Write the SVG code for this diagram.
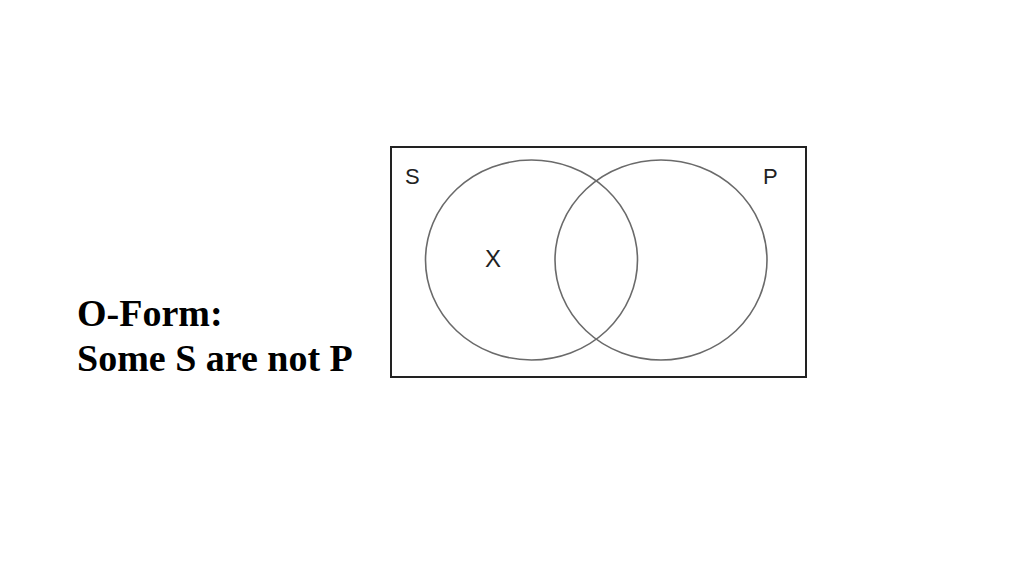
<svg xmlns="http://www.w3.org/2000/svg" width="1024" height="575" viewBox="0 0 1024 575">
<style>
.title{font-family:"Liberation Serif",serif;font-weight:bold;font-size:38px;fill:#000}
.lbl{font-family:"Liberation Sans",sans-serif;font-size:22px;fill:#222}
.c{fill:none;stroke:#6a6a6a;stroke-width:1.6}
</style>
<rect width="1024" height="575" fill="#fff"/>
<g id="title">
<text class="title" x="77" y="326">O-Form:</text>
<text class="title" x="77" y="371">Some S are not P</text>
</g>
<g id="universe">
<rect x="391" y="147" width="415" height="230" fill="#fff" stroke="#222" stroke-width="2"/>
</g>
<g id="circle-S">
<ellipse class="c" cx="531.5" cy="260" rx="106" ry="100"/>
<text class="lbl" x="405" y="184">S</text>
</g>
<g id="circle-P">
<ellipse class="c" cx="661" cy="260" rx="106" ry="100"/>
<text class="lbl" x="763" y="184">P</text>
</g>
<g id="mark">
<text class="lbl" x="485" y="267" style="font-size:24px">X</text>
</g>
<g id="connectors"/>
</svg>
